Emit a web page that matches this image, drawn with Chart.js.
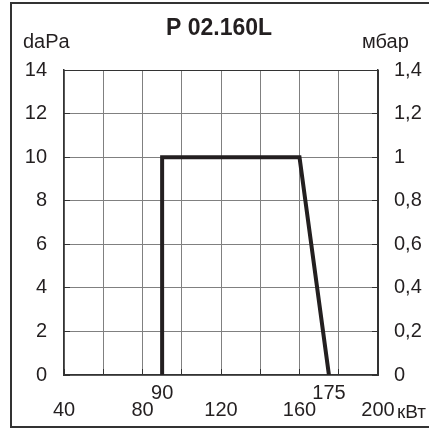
<!DOCTYPE html>
<html>
<head>
<meta charset="utf-8">
<script src="https://cdn.jsdelivr.net/npm/chart.js@4/dist/chart.umd.min.js"></script>
<style>
  body { margin: 0; background: #fff; }
  canvas { display: block; }
</style>
</head>
<body>
<canvas id="chart" width="429" height="429"></canvas>
<script>
const powerKw = [90, 90, 160, 175];
const pressureDaPa = [0, 10, 10, 0];
const xTicks = [40, 60, 80, 90, 100, 120, 140, 160, 175, 180, 200];
const xLabelled = [40, 80, 120, 160, 200];
const xRaised = [90, 175];

const ink = '#231f20';
const font = '"Liberation Sans", Arial, sans-serif';

const frameAndLabels = {
    id: 'frameAndLabels',
    beforeDraw(chart) {
        const ctx = chart.ctx;
        ctx.save();
        ctx.fillStyle = '#fff';
        ctx.fillRect(0, 0, chart.width, chart.height);
        ctx.strokeStyle = '#333';
        ctx.lineWidth = 2;
        ctx.strokeRect(11, 3, 440, 424);
        ctx.restore();
    },
    afterDraw(chart) {
        const ctx = chart.ctx;
        ctx.save();
        ctx.fillStyle = ink;
        ctx.textBaseline = 'alphabetic';
        ctx.font = 'bold 23px ' + font;
        ctx.textAlign = 'center';
        ctx.fillText('P 02.160L', 219, 35);
        ctx.font = '20px ' + font;
        ctx.textAlign = 'left';
        ctx.fillText('daPa', 23, 48);
        ctx.fillText('мбар', 362, 48);
        ctx.font = '19px ' + font;
        ctx.fillText('кВт', 397, 418);
        ctx.restore();
    }
};

new Chart(document.getElementById('chart'), {
    type: 'scatter',
    data: {
        datasets: [{
            data: powerKw.map((x, i) => ({ x: x, y: pressureDaPa[i] })),
            showLine: true,
            borderColor: ink,
            borderWidth: 4,
            borderJoinStyle: 'miter',
            pointRadius: 0,
            tension: 0
        }]
    },
    options: {
        responsive: false,
        devicePixelRatio: 1,
        animation: false,
        layout: { padding: { top: 70, left: 0, right: 0, bottom: 0 } },
        plugins: {
            legend: { display: false },
            tooltip: { enabled: false }
        },
        scales: {
            x: {
                type: 'linear',
                min: 40,
                max: 200,
                afterBuildTicks(scale) {
                    scale.ticks = xTicks.map(v => ({ value: v }));
                },
                afterFit(scale) { scale.height = 54; },
                grid: {
                    color: ctx => {
                        const v = ctx.tick && ctx.tick.value;
                        if (xRaised.includes(v)) return 'rgba(0,0,0,0)';
                        if (v === 200) return '#333';
                        return '#808080';
                    },
                    tickColor: ctx => xRaised.includes(ctx.tick && ctx.tick.value) ? 'rgba(0,0,0,0)' : '#333',
                    tickLength: -6,
                    lineWidth: 1
                },
                border: { color: '#333', width: 1.5 },
                ticks: {
                    autoSkip: false,
                    maxRotation: 0,
                    padding: 16,
                    color: ink,
                    font: { family: font, size: 20, lineHeight: '17px' },
                    callback: v => {
                        if (xRaised.includes(v)) return [String(v)];
                        if (xLabelled.includes(v)) return ['', String(v)];
                        return '';
                    }
                }
            },
            y: {
                position: 'left',
                min: 0,
                max: 14,
                afterFit(scale) { scale.width = 64; },
                grid: {
                    color: ctx => (ctx.tick && ctx.tick.value === 14) ? '#333' : '#808080',
                    tickColor: '#333',
                    tickLength: -6,
                    lineWidth: 1
                },
                border: { color: '#333', width: 1.5 },
                ticks: {
                    stepSize: 2,
                    padding: 23,
                    color: ink,
                    font: { family: font, size: 20 }
                }
            },
            y2: {
                position: 'right',
                min: 0,
                max: 1.4,
                afterFit(scale) { scale.width = 51; },
                grid: {
                    drawOnChartArea: false,
                    color: 'rgba(0,0,0,0)',
                    tickColor: '#333',
                    tickLength: -6
                },
                border: { color: '#333', width: 1.5 },
                ticks: {
                    stepSize: 0.2,
                    padding: 22,
                    color: ink,
                    font: { family: font, size: 20 },
                    callback: v => String(Math.round(v * 10) / 10).replace('.', ',')
                }
            }
        }
    },
    plugins: [frameAndLabels]
});
</script>
</body>
</html>
